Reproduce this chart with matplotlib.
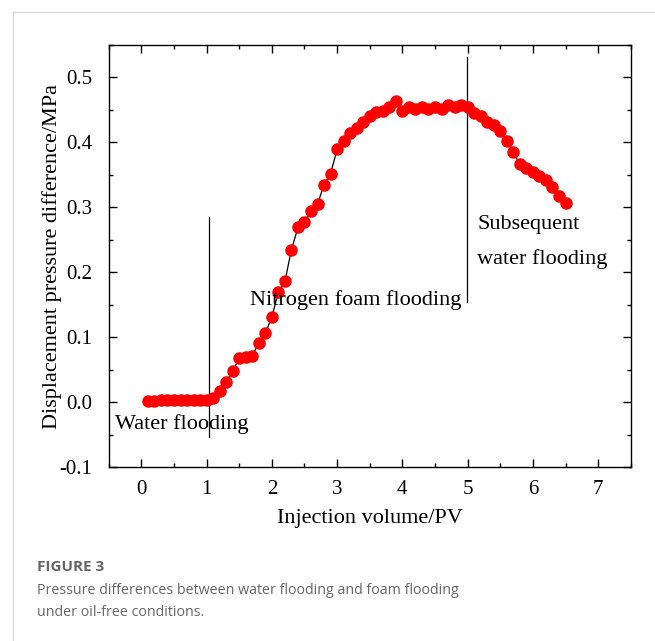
import matplotlib
matplotlib.use("Agg")
import matplotlib.pyplot as plt
from matplotlib.lines import Line2D
from matplotlib.ticker import MultipleLocator

# injection volume (PV) and displacement pressure difference (MPa)
volume = [round(0.1 * i, 1) for i in range(1, 66)]
pressure = [0.002, 0.002, 0.003, 0.003, 0.004, 0.004, 0.004, 0.004, 0.004, 0.004,
            0.006, 0.018, 0.032, 0.048, 0.068, 0.069, 0.072, 0.091, 0.106, 0.132,
            0.169, 0.186, 0.235, 0.269, 0.277, 0.294, 0.305, 0.335, 0.352, 0.389,
            0.402, 0.415, 0.422, 0.431, 0.440, 0.446, 0.449, 0.454, 0.463, 0.449,
            0.454, 0.452, 0.455, 0.452, 0.455, 0.452, 0.458, 0.454, 0.457, 0.455,
            0.445, 0.440, 0.432, 0.426, 0.417, 0.402, 0.385, 0.366, 0.360, 0.354,
            0.348, 0.342, 0.331, 0.318, 0.306]

stage_lines = [1.04, 4.99]
stage_line_lo = [-0.054, 0.155]
stage_line_hi = [0.285, 0.532]

plt.rcParams['font.family'] = ['Liberation Serif', 'DejaVu Serif']

fig = plt.figure(figsize=(6.55, 6.41), dpi=100)
ax = fig.add_axes([0.166, 0.271, 0.797, 0.659])

ax.plot(volume, pressure, color='black', lw=0.9, marker='o', markersize=8,
        markerfacecolor='red', markeredgecolor='red', zorder=3)

for xv, lo, hi in zip(stage_lines, stage_line_lo, stage_line_hi):
    ax.plot([xv, xv], [lo, hi], color='black', lw=0.9, zorder=2)

ax.text(-0.40, -0.034, 'Water flooding', fontsize=16, va='center', ha='left')
ax.text(1.67, 0.158, 'Nitrogen foam flooding', fontsize=16, va='center', ha='left')
ax.text(5.15, 0.274, 'Subsequent', fontsize=16, va='center', ha='left')
ax.text(5.15, 0.220, 'water flooding', fontsize=16, va='center', ha='left')

ax.set_xlim(-0.5, 7.5)
ax.set_ylim(-0.1, 0.55)
ax.xaxis.set_major_locator(MultipleLocator(1))
ax.xaxis.set_minor_locator(MultipleLocator(0.5))
ax.yaxis.set_minor_locator(MultipleLocator(0.05))
ax.set_yticks([-0.1, 0.0, 0.1, 0.2, 0.3, 0.4, 0.5])
ax.set_yticklabels(['-0.1', '0.0', '0.1', '0.2', '0.3', '0.4', '0.5'])
ax.tick_params(which='both', direction='in', top=True, right=True, labelsize=15, width=1)
ax.tick_params(which='major', length=6, pad=9)
ax.tick_params(axis='y', which='major', pad=12)
ax.tick_params(which='minor', length=3)
for s in ax.spines.values():
    s.set_linewidth(1)

ax.set_xlabel('Injection volume/PV', fontsize=16, labelpad=7)
ax.set_ylabel('Displacement pressure difference/MPa', fontsize=16, labelpad=-2)

# page frame and caption
fig.add_artist(Line2D([13 / 655, 13 / 655], [0, 1 - 12 / 641], color='#d9d9d9', lw=1))
fig.add_artist(Line2D([13 / 655, 1], [1 - 12 / 641, 1 - 12 / 641], color='#d9d9d9', lw=1))

fig.text(37 / 655, 1 - 567 / 641, 'FIGURE 3', fontsize=11, fontweight='bold',
         color='#666666', family='Open Sans', va='center', ha='left')
fig.text(37 / 655, 1 - 590 / 641, 'Pressure differences between water flooding and foam flooding',
         fontsize=10.3, color='#666666', family='Open Sans', va='center', ha='left')
fig.text(37 / 655, 1 - 613 / 641, 'under oil-free conditions.',
         fontsize=10.3, color='#666666', family='Open Sans', va='center', ha='left')

fig.savefig('out.png', dpi=100)
